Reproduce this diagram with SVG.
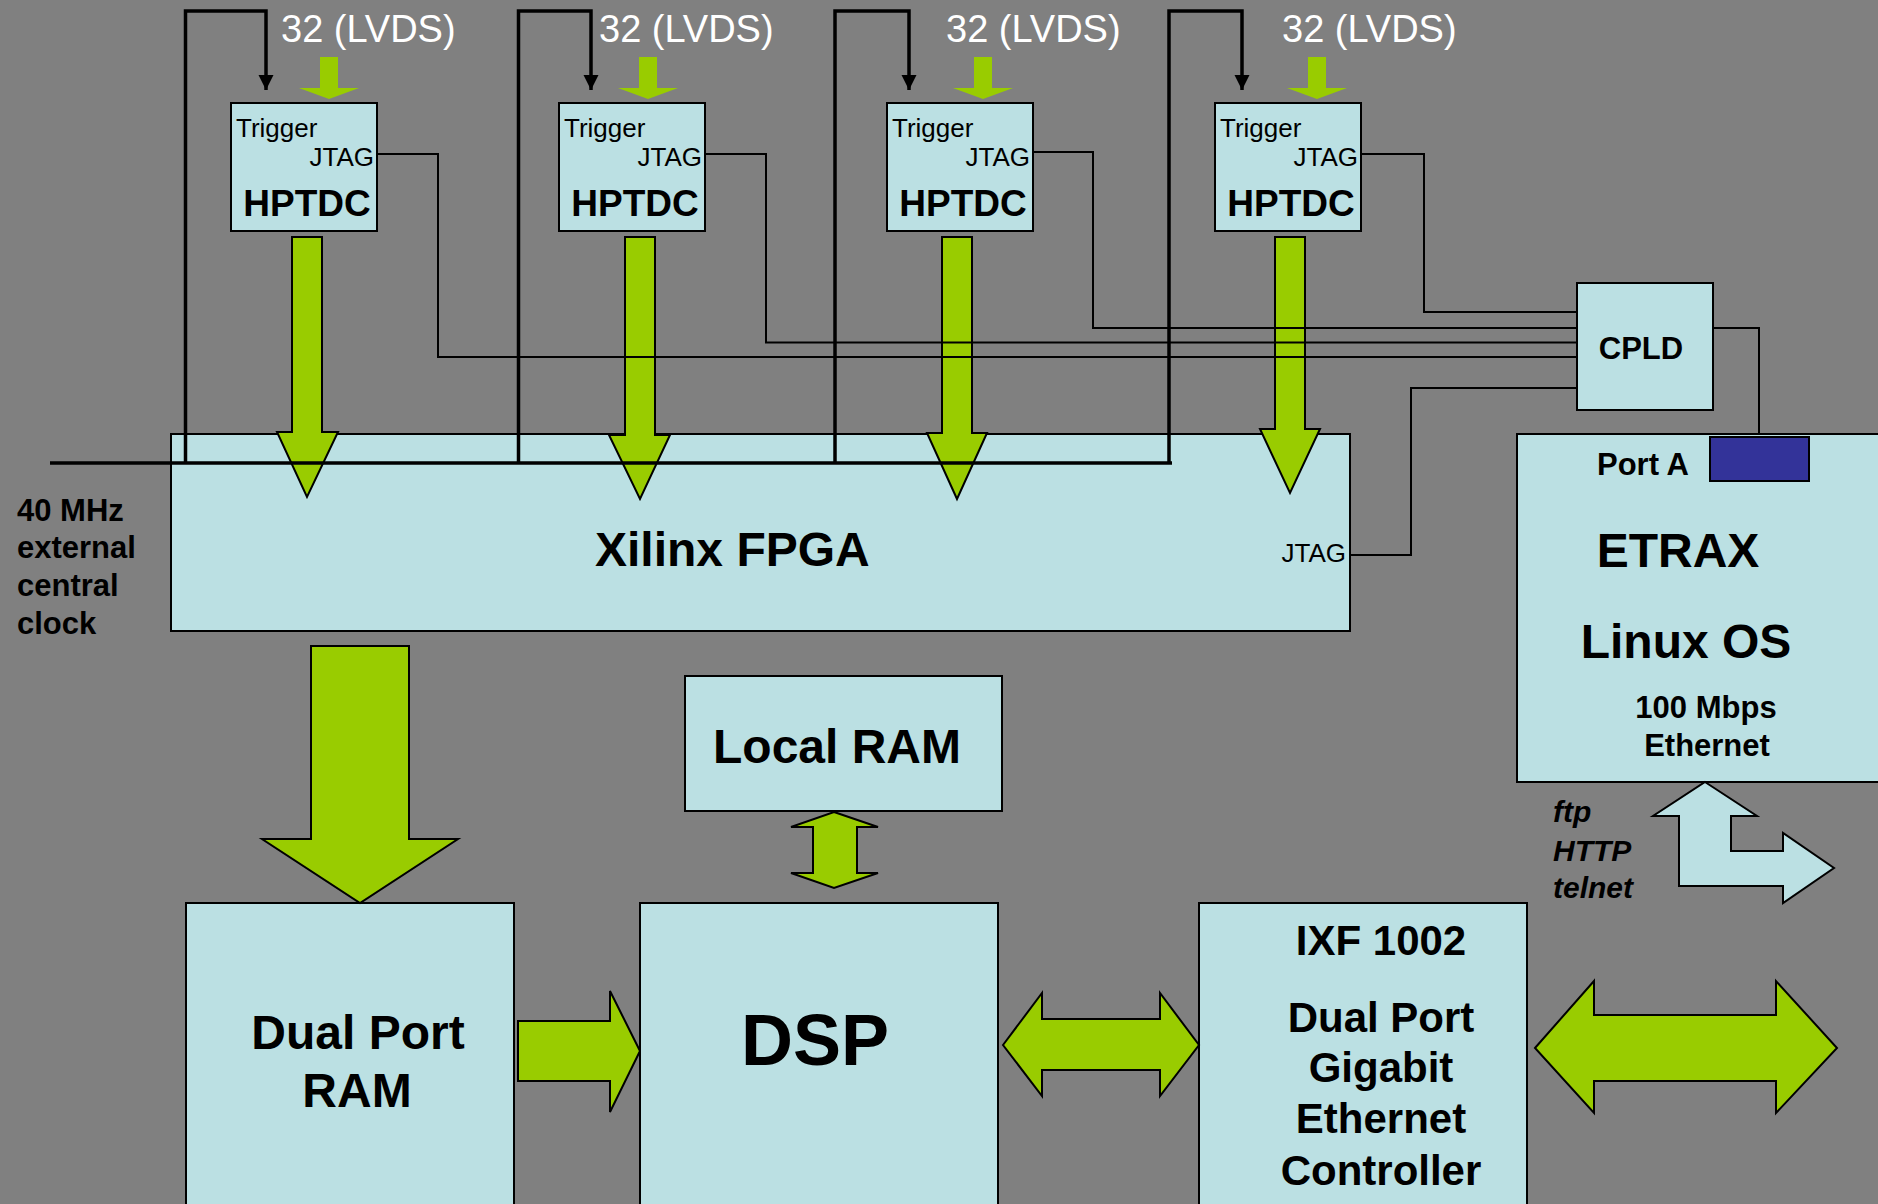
<svg xmlns="http://www.w3.org/2000/svg" width="1878" height="1204" viewBox="0 0 1878 1204">
<style>
text{font-family:"Liberation Sans",Arial,sans-serif;fill:#000}
.box{fill:#BBE0E3;stroke:#000;stroke-width:2}
.g{fill:#99CC00;stroke:#000;stroke-width:2;stroke-linejoin:miter}
.gs{fill:#99CC00}
.lb{fill:#BBE0E3;stroke:#000;stroke-width:2}
.thin{fill:none;stroke:#000;stroke-width:2}
.thick{fill:none;stroke:#000;stroke-width:3.5}
.sm{font-size:26px}
.lvds{font-size:38px;fill:#fff}
.hp{font-size:37px;font-weight:bold}
.b30{font-size:31px;font-weight:bold}
.b48{font-size:48px;font-weight:bold}
.b42{font-size:42px;font-weight:bold}
.bi{font-size:30px;font-weight:bold;font-style:italic}
</style>
<defs>
<marker id="ah" viewBox="0 0 10 10" refX="10" refY="5" markerWidth="4.4" markerHeight="4.4" orient="auto" markerUnits="strokeWidth">
<path d="M0,0 L10,5 L0,10 z" fill="#000"/>
</marker>
</defs>
<rect width="1878" height="1204" fill="#808080"/>

<g id="fpga">
<rect class="box" x="171" y="434" width="1179" height="197"/>
<text class="b48" x="595" y="566">Xilinx FPGA</text>
<text class="sm" x="1346" y="562" text-anchor="end">JTAG</text>
</g>

<g id="hptdc1">
<rect class="box" x="231" y="103" width="146" height="128"/>
<text class="sm" x="236" y="137">Trigger</text>
<text class="sm" x="374" y="166" text-anchor="end">JTAG</text>
<text class="hp" x="307" y="216" text-anchor="middle">HPTDC</text>
</g>
<g id="hptdc2">
<rect class="box" x="559" y="103" width="146" height="128"/>
<text class="sm" x="564" y="137">Trigger</text>
<text class="sm" x="702" y="166" text-anchor="end">JTAG</text>
<text class="hp" x="635" y="216" text-anchor="middle">HPTDC</text>
</g>
<g id="hptdc3">
<rect class="box" x="887" y="103" width="146" height="128"/>
<text class="sm" x="892" y="137">Trigger</text>
<text class="sm" x="1030" y="166" text-anchor="end">JTAG</text>
<text class="hp" x="963" y="216" text-anchor="middle">HPTDC</text>
</g>
<g id="hptdc4">
<rect class="box" x="1215" y="103" width="146" height="128"/>
<text class="sm" x="1220" y="137">Trigger</text>
<text class="sm" x="1358" y="166" text-anchor="end">JTAG</text>
<text class="hp" x="1291" y="216" text-anchor="middle">HPTDC</text>
</g>

<g id="labels">
<text class="lvds" x="281" y="42">32 (LVDS)</text>
<text class="lvds" x="599" y="42">32 (LVDS)</text>
<text class="lvds" x="946" y="42">32 (LVDS)</text>
<text class="lvds" x="1282" y="42">32 (LVDS)</text>
<text class="b30" x="17" y="521">40 MHz</text>
<text class="b30" x="17" y="558">external</text>
<text class="b30" x="17" y="596">central</text>
<text class="b30" x="17" y="634">clock</text>
<text class="bi" x="1553" y="822">ftp</text>
<text class="bi" x="1553" y="861">HTTP</text>
<text class="bi" x="1553" y="898">telnet</text>
</g>

<g id="cpld">
<rect class="box" x="1577" y="283" width="136" height="127"/>
<text class="b30" x="1641" y="359" text-anchor="middle">CPLD</text>
</g>

<g id="etrax">
<rect class="box" x="1517" y="434" width="380" height="348"/>
<rect x="1710" y="437" width="99" height="44" fill="#333399" stroke="#000" stroke-width="2"/>
<text class="b30" x="1597" y="475">Port A</text>
<text class="b48" x="1678" y="567" text-anchor="middle">ETRAX</text>
<text class="b48" x="1686" y="658" text-anchor="middle">Linux OS</text>
<text class="b30" x="1706" y="718" text-anchor="middle">100 Mbps</text>
<text class="b30" x="1707" y="756" text-anchor="middle">Ethernet</text>
</g>

<g id="localram">
<rect class="box" x="685" y="676" width="317" height="135"/>
<text class="b48" x="837" y="763" text-anchor="middle">Local RAM</text>
</g>

<g id="dpram">
<rect class="box" x="186" y="903" width="328" height="320"/>
<text class="b48" x="358" y="1049" text-anchor="middle">Dual Port</text>
<text class="b48" x="357" y="1107" text-anchor="middle">RAM</text>
</g>

<g id="dsp">
<rect class="box" x="640" y="903" width="358" height="320"/>
<text x="815" y="1065" text-anchor="middle" style="font-size:72px;font-weight:bold">DSP</text>
</g>

<g id="ixf">
<rect class="box" x="1199" y="903" width="328" height="320"/>
<text class="b42" x="1381" y="955" text-anchor="middle">IXF 1002</text>
<text class="b42" x="1381" y="1032" text-anchor="middle">Dual Port</text>
<text class="b42" x="1381" y="1082" text-anchor="middle">Gigabit</text>
<text class="b42" x="1381" y="1133" text-anchor="middle">Ethernet</text>
<text class="b42" x="1381" y="1185" text-anchor="middle">Controller</text>
</g>

<g id="connectors">
<path class="gs" d="M320,57 h18 v31 h21 l-30,11 l-30,-11 h21 z"/>
<path class="gs" d="M639,57 h18 v31 h21 l-30,11 l-30,-11 h21 z"/>
<path class="gs" d="M974,57 h18 v31 h21 l-30,11 l-30,-11 h21 z"/>
<path class="gs" d="M1308,57 h18 v31 h21 l-30,11 l-30,-11 h21 z"/>
<path class="g" d="M292,237 H322 V432 H338 L307,497 L277,432 H292 Z"/>
<path class="g" d="M625,237 H655 V435 H670 L640,499 L609,435 H625 Z"/>
<path class="g" d="M942,237 H972 V433 H987 L957,499 L927,433 H942 Z"/>
<path class="g" d="M1275,237 H1305 V429 H1320 L1290,493 L1260,429 H1275 Z"/>
<path class="thin" d="M377,154 H438 V357 H1577"/>
<path class="thin" d="M705,154 H766 V342.5 H1577"/>
<path class="thin" d="M1033,152 H1093 V328 H1577"/>
<path class="thin" d="M1361,154 H1424 V312 H1577"/>
<path class="thin" d="M1350,555 H1411 V388 H1577"/>
<path class="thin" d="M1713,328 H1759 V434"/>
<path class="thick" d="M50,463 H1172"/>
<path class="thick" d="M185.5,464 V11 H266 V90" marker-end="url(#ah)"/>
<path class="thick" d="M518.5,464 V11 H591 V90" marker-end="url(#ah)"/>
<path class="thick" d="M835,464 V11 H909 V90" marker-end="url(#ah)"/>
<path class="thick" d="M1169,464 V11 H1242 V90" marker-end="url(#ah)"/>
<path class="g" d="M311,646 H409 V839 H458 L360,903 L262,839 H311 Z"/>
<path class="g" d="M834,812 L878,827 H857 V873 H878 L834,888 L791,873 H813 V827 H791 Z"/>
<path class="g" d="M518,1021 H610 V991 L640,1051 L610,1112 V1081 H518 Z"/>
<path class="g" d="M1003,1045 L1042,993 V1019 H1160 V993 L1199,1045 L1160,1096 V1070 H1042 V1096 Z"/>
<path class="g" d="M1535,1048 L1594,981 V1015 H1776 V981 L1837,1048 L1776,1113 V1081 H1594 V1113 Z"/>
<path class="lb" d="M1705,782 L1757,816 H1731 V851 H1783 V833 L1834,868 L1783,903 V886 H1679 V816 H1653 Z"/>
</g>
</svg>
